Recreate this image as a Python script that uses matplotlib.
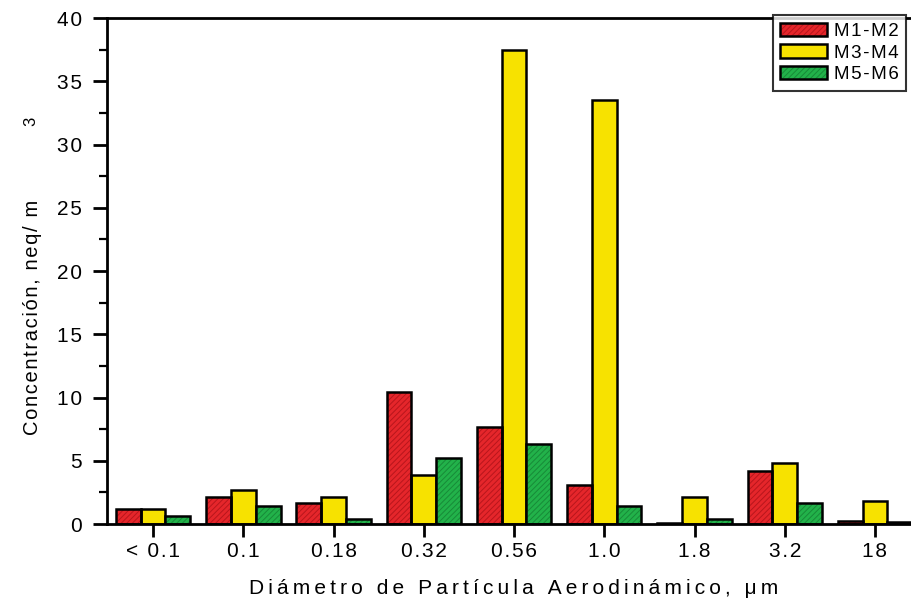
import numpy as np
import matplotlib.pyplot as plt
import matplotlib.patches as mpatches

plt.rcParams['font.family'] = ['Liberation Sans', 'DejaVu Sans']
plt.rcParams['hatch.linewidth'] = 0.7

# data
sizes = ['< 0.1', '0.1', '0.18', '0.32', '0.56', '1.0', '1.8', '3.2', '18']
series = ['M1-M2', 'M3-M4', 'M5-M6']
m1_m2 = [1.2, 2.1, 1.7, 10.4, 7.7, 3.1, 0.05, 4.2, 0.2]
m3_m4 = [1.2, 2.7, 2.1, 3.9, 37.5, 33.5, 2.1, 4.8, 1.8]
m5_m6 = [0.65, 1.45, 0.4, 5.2, 6.3, 1.45, 0.4, 1.7, 0.15]

fills = ['#e5262b', '#f7e200', '#22b24a']
hatch_cols = ['#b8161c', None, '#178a38']

THIN = '\u2009'
HAIR = '\u200a'


def spaced(s, sp=THIN):
    # the original uses wide letter spacing, fake it with narrow spaces
    return sp.join(s)


fig = plt.figure(figsize=(9.11, 6.07), dpi=100)
ax = fig.add_axes([0.1175, 0.1367, 0.8925, 0.8336])

x = np.arange(len(sizes))
w = 0.275
handles = []
for i, (vals, fc, hc) in enumerate(zip([m1_m2, m3_m4, m5_m6], fills, hatch_cols)):
    pos = x + (i - 1) * w
    if hc is None:
        ax.bar(pos, vals, w, color=fc, edgecolor='black', linewidth=1.8, zorder=2)
        handles.append(mpatches.Patch(facecolor=fc, edgecolor='black', linewidth=1.8))
    else:
        ax.bar(pos, vals, w, color=fc, edgecolor=hc, hatch='//////', linewidth=0, zorder=2)
        ax.bar(pos, vals, w, fill=False, edgecolor='black', linewidth=1.8, zorder=3)
        handles.append((mpatches.Patch(facecolor=fc, edgecolor=hc, hatch='//////', linewidth=0),
                        mpatches.Patch(fill=False, edgecolor='black', linewidth=1.8)))

ax.set_xlim(-0.51, 8.5)
ax.set_ylim(0, 40)
ax.set_xticks(x)
ax.set_xticklabels([spaced(s, HAIR) for s in sizes], fontsize=15)
yt = np.arange(0, 41, 5)
ax.set_yticks(yt)
ax.set_yticklabels([spaced(str(v), HAIR) for v in yt], fontsize=15)
ax.set_yticks(np.arange(0, 40, 2.5), minor=True)
ax.tick_params(axis='y', which='major', direction='out', length=10, width=2, pad=8)
ax.tick_params(axis='y', which='minor', direction='out', length=6, width=1.6)
ax.tick_params(axis='x', which='major', direction='out', length=9, width=2, pad=4)

for s in ['left', 'top', 'bottom']:
    ax.spines[s].set_linewidth(2)
ax.spines['right'].set_visible(False)

ax.set_xlabel(spaced('Diámetro de Partícula Aerodinámico, μm'), fontsize=15, labelpad=13)
ax.set_ylabel(spaced('Concentración, neq/ m', HAIR), fontsize=14.5)
ax.yaxis.set_label_coords(-0.080, 0.409)
fig.text(0.034, 0.80, '3', fontsize=12, rotation=90, ha='center', va='center')

leg = ax.legend(handles, [spaced(s, HAIR) for s in series], loc='upper right',
                bbox_to_anchor=(0.9945, 0.975), bbox_transform=fig.transFigure,
                fontsize=13.5, frameon=True, fancybox=False, handlelength=2.5,
                handleheight=0.7, handletextpad=0.35, borderpad=0.4, labelspacing=0.25,
                borderaxespad=0)
leg.get_frame().set_edgecolor('black')
leg.get_frame().set_linewidth(1.5)

fig.savefig('out.png', dpi=100)
